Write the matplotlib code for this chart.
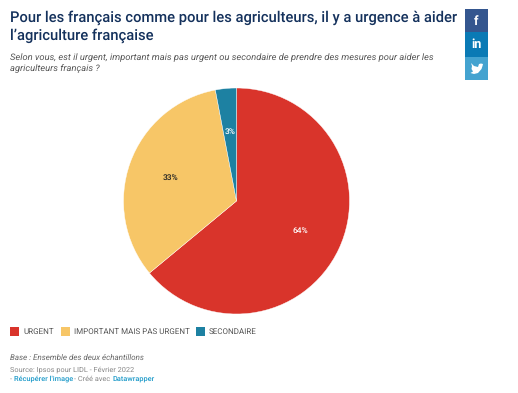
import math
import matplotlib
matplotlib.use("Agg")
import matplotlib.pyplot as plt
from matplotlib.patches import Rectangle, Polygon

plt.rcParams['font.family'] = ['Roboto', 'DejaVu Sans']
plt.rcParams['text.hinting'] = 'no_hinting'

categories = ["URGENT", "IMPORTANT MAIS PAS URGENT", "SECONDAIRE"]
values = [64, 33, 3]
colors = ["#d9342b", "#f7c667", "#1d81a2"]
label_colors = ["white", "#222222", "white"]
title_lines = ["Pour les français comme pour les agriculteurs, il y a urgence à aider",
               "l’agriculture française"]
subtitle_lines = ["Selon vous, est il urgent, important mais pas urgent ou secondaire de prendre des mesures pour aider les",
                  "agriculteurs français ?"]

W, H = 518, 393
fig = plt.figure(figsize=(W/100, H/100), dpi=100, facecolor="white")

# overlay in pixel coordinates
ov = fig.add_axes([0, 0, 1, 1])
ov.set_xlim(0, W); ov.set_ylim(H, 0); ov.axis("off")

# pie
cx, cy, r = 236.5, 201, 113
ax = fig.add_axes([(cx-r)/W, 1-(cy+r)/H, 2*r/W, 2*r/H])
wedges, _ = ax.pie(values, colors=colors, startangle=90, counterclock=False, radius=1,
                   wedgeprops=dict(edgecolor="white", linewidth=0.3))
ax.set_xlim(-1, 1); ax.set_ylim(-1, 1); ax.set_aspect("equal")
for w, v, c in zip(wedges, values, label_colors):
    a = math.radians((w.theta1 + w.theta2)/2)
    ax.text(0.62*math.cos(a), 0.62*math.sin(a), f"{v}%", ha="center", va="center",
            fontsize=6, fontweight="medium", color=c)

# title and subtitle
for y, s in zip([18, 36], title_lines):
    ov.text(10, y, s, fontsize=10.58, fontweight="medium", color="#14315c", va="center", ha="left")
for y, s in zip([57.5, 69], subtitle_lines):
    ov.text(10, y, s, fontsize=6.77, style="italic", color="#555555", va="center", ha="left")

# legend
for x, c, s in zip([10, 61, 196], colors, categories):
    ov.add_patch(Rectangle((x, 327), 9, 9, facecolor=c, edgecolor="none"))
    ov.text(x+13, 334, s, fontsize=5.75, color="#555555", va="baseline", ha="left")

# footer
ov.text(10, 359.5, "Base : Ensemble des deux échantillons", fontsize=5.8, style="italic", color="#666666", va="baseline")
ov.text(10, 371.5, "Source: Ipsos pour LIDL - Février 2022", fontsize=5.3, color="#888888", va="baseline")
ov.text(10, 381, "-", fontsize=5.3, color="#888888", va="baseline")
ov.text(14, 381, "Récupérer l'image", fontsize=5.3, fontweight="medium", color="#1d9ac9", va="baseline")
ov.text(74, 381, "- Créé avec", fontsize=5.3, color="#888888", va="baseline")
ov.text(112.5, 382, "Datawrapper", fontsize=5.3, fontweight="medium", color="#1d9ac9", va="baseline")

# share buttons
ov.add_patch(Rectangle((465, 9), 23, 23, facecolor="#34568f", edgecolor="none"))
ov.add_patch(Rectangle((465, 32), 23, 25, facecolor="#0a7ab5", edgecolor="none"))
ov.add_patch(Rectangle((465, 57), 23, 23, facecolor="#44a3d0", edgecolor="none"))
ov.text(476.5, 21, "f", fontsize=9, fontweight="bold", color="white", ha="center", va="center")
ov.text(476.5, 44.5, "in", fontsize=9, fontweight="bold", color="white", ha="center", va="center")
ov.add_patch(Polygon([(471, 63), (474, 66), (478, 67), (479, 64), (481, 63.5), (483, 64), (482.5, 66),
                     (481.5, 69), (478, 73), (474, 74), (470.5, 73), (473, 71.5), (471.5, 69), (472, 66)],
                     closed=True, facecolor="white", edgecolor="none"))

fig.savefig("out.png", dpi=100, facecolor="white")
